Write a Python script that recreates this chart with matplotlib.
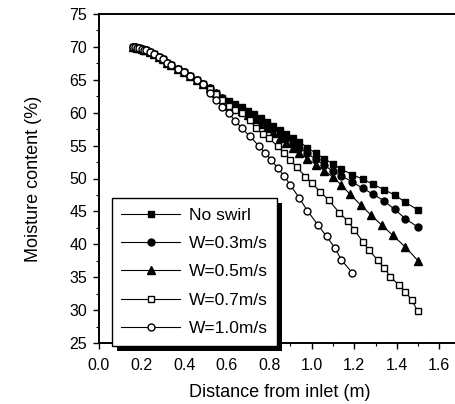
import matplotlib
matplotlib.use("Agg")
import matplotlib.pyplot as plt
import numpy as np
from matplotlib.patches import Rectangle
from matplotlib.transforms import IdentityTransform
from matplotlib.ticker import MultipleLocator

plt.rcParams['font.family'] = ['Liberation Sans', 'DejaVu Sans']

# shared start of all curves (near the inlet)
x_start = [0.16, 0.17, 0.18, 0.19, 0.20, 0.21, 0.22, 0.24, 0.26, 0.28, 0.30,
           0.32, 0.34, 0.37, 0.40, 0.43, 0.46, 0.49]
y_start = [70.0, 70.0, 69.9, 69.8, 69.7, 69.6, 69.5, 69.2, 68.9, 68.5, 68.1,
           67.6, 67.2, 66.7, 66.2, 65.6, 65.0, 64.3]

# tails of each curve
x_noswirl = [0.52, 0.55, 0.58, 0.61, 0.64, 0.67, 0.70, 0.73, 0.76, 0.79, 0.82, 0.85,
             0.88, 0.91, 0.94, 0.98, 1.02, 1.06, 1.10, 1.14, 1.19, 1.24, 1.29, 1.34,
             1.39, 1.44, 1.50]
y_noswirl = [63.7, 63.0, 62.3, 61.8, 61.3, 60.8, 60.3, 59.8, 59.2, 58.6, 58.0, 57.4,
             56.8, 56.2, 55.6, 54.7, 53.8, 53.0, 52.2, 51.4, 50.6, 49.9, 49.1, 48.3,
             47.5, 46.4, 45.2]

x_w03 = [0.52, 0.55, 0.58, 0.61, 0.64, 0.67, 0.70, 0.73, 0.76, 0.79, 0.82, 0.85,
         0.88, 0.91, 0.94, 0.98, 1.02, 1.06, 1.10, 1.14, 1.19, 1.24, 1.29, 1.34,
         1.39, 1.44, 1.50]
y_w03 = [63.7, 63.0, 62.3, 61.7, 61.1, 60.6, 60.0, 59.4, 58.8, 58.2, 57.5, 56.8,
         56.1, 55.4, 54.7, 53.8, 52.9, 52.0, 51.1, 50.4, 49.5, 48.5, 47.6, 46.6,
         45.3, 43.9, 42.6]

x_w05 = [0.52, 0.55, 0.58, 0.61, 0.64, 0.67, 0.70, 0.73, 0.76, 0.79, 0.82, 0.85,
         0.88, 0.91, 0.94, 0.98, 1.02, 1.06, 1.10, 1.14, 1.18, 1.23, 1.28, 1.33,
         1.38, 1.44, 1.50]
y_w05 = [63.7, 63.0, 62.3, 61.6, 61.0, 60.3, 59.7, 59.0, 58.3, 57.6, 56.9, 56.1,
         55.4, 54.6, 53.9, 53.0, 52.1, 51.2, 50.2, 49.0, 47.6, 46.0, 44.4, 42.9,
         41.4, 39.6, 37.5]

x_w07 = [0.52, 0.55, 0.58, 0.61, 0.64, 0.67, 0.71, 0.74, 0.77, 0.80, 0.84, 0.87,
         0.90, 0.93, 0.97, 1.00, 1.04, 1.08, 1.13, 1.17, 1.20, 1.24, 1.27, 1.31,
         1.34, 1.37, 1.41, 1.44, 1.47, 1.50]
y_w07 = [63.6, 62.8, 61.9, 61.0, 60.4, 59.9, 58.9, 57.6, 56.8, 56.1, 54.9, 53.9,
         52.8, 51.7, 50.3, 49.3, 48.0, 46.7, 44.8, 43.5, 42.2, 40.4, 39.1, 37.6,
         36.4, 35.1, 33.8, 32.8, 31.5, 29.8]

x_w10 = [0.52, 0.55, 0.58, 0.61, 0.64, 0.67, 0.71, 0.75, 0.78, 0.81, 0.84, 0.87,
         0.90, 0.94, 0.98, 1.03, 1.07, 1.11, 1.14, 1.19]
y_w10 = [63.0, 62.0, 60.9, 59.9, 58.8, 57.7, 56.4, 55.0, 53.9, 52.8, 51.6, 50.4,
         49.0, 47.1, 45.1, 42.9, 41.2, 39.4, 37.6, 35.7]

series = [
    ("No swirl", x_noswirl, y_noswirl, 's', 'black'),
    ("W=0.3m/s", x_w03, y_w03, 'o', 'black'),
    ("W=0.5m/s", x_w05, y_w05, '^', 'black'),
    ("W=0.7m/s", x_w07, y_w07, 's', 'white'),
    ("W=1.0m/s", x_w10, y_w10, 'o', 'white'),
]

fig = plt.figure(figsize=(4.56, 4.04), dpi=100)
ax = fig.add_axes([99 / 456, 61 / 404, 361.6 / 456, 329 / 404])

for label, xs, ys, m, fc in series:
    x = np.array(x_start + xs)
    y = np.array(y_start + ys)
    ms = 6 if m == '^' else 5
    ax.plot(x, y, color='black', lw=0.8, marker=m, markersize=ms,
            markerfacecolor=fc, markeredgecolor='black', markeredgewidth=1.0,
            label=label)

ax.set_xlim(0, 1.7)
ax.set_ylim(25, 75)
ax.xaxis.set_major_locator(MultipleLocator(0.2))
ax.xaxis.set_minor_locator(MultipleLocator(0.1))
ax.yaxis.set_major_locator(MultipleLocator(5))
ax.yaxis.set_minor_locator(MultipleLocator(2.5))
ax.xaxis.set_major_formatter(matplotlib.ticker.FormatStrFormatter('%.1f'))
ax.tick_params(which='major', direction='out', length=4.5, width=1.0,
               labelsize=11.5)
ax.tick_params(axis='x', which='major', pad=6)
ax.tick_params(axis='y', which='major', pad=4)
ax.tick_params(which='minor', direction='out', length=2.5, width=0.8)
ax.spines['right'].set_visible(False)
for s in ['left', 'bottom', 'top']:
    ax.spines[s].set_linewidth(1.4)

ax.set_xlabel('Distance from inlet (m)', fontsize=13, labelpad=8)
ax.set_ylabel('Moisture content (%)', fontsize=13, labelpad=20)

leg = ax.legend(loc='lower left', bbox_to_anchor=(0.035, -0.008),
                borderaxespad=0, fontsize=12.5, frameon=True, fancybox=False,
                edgecolor='black', framealpha=1.0, handlelength=3.4,
                handletextpad=0.5, labelspacing=0.76, borderpad=0.55)
leg.get_frame().set_linewidth(1.0)
leg.set_zorder(6)

# solid black drop shadow behind the legend box
fig.canvas.draw()
bb = leg.get_window_extent()
shadow = Rectangle((bb.x0 + 5, bb.y0 - 5), bb.width, bb.height,
                   transform=IdentityTransform(), facecolor='black',
                   edgecolor='none', zorder=5.5, clip_on=False)
ax.add_patch(shadow)

fig.savefig('out.png', dpi=100)
